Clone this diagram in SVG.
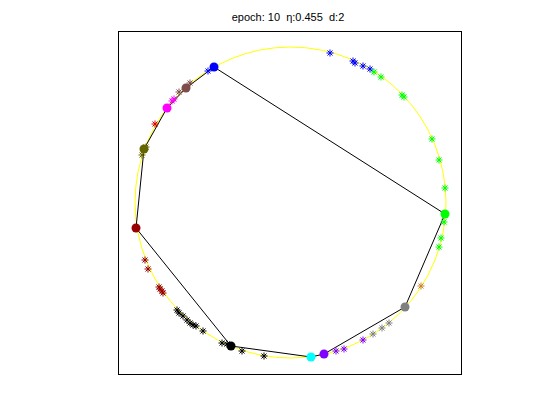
<svg xmlns="http://www.w3.org/2000/svg" xmlns:xlink="http://www.w3.org/1999/xlink" width="560" height="420" viewBox="0 0 560 420">
<style>
.title{font-family:"Liberation Sans",Arial,sans-serif;font-size:11px;fill:#000;white-space:pre}
.st{fill:none;stroke-width:1}
.edge{fill:none;stroke:#000;stroke-width:1}
</style>
<defs>
<path id="s" d="M-3.5,0H3.5M0,-3.5V3.5M-2.5,-2.5L2.5,2.5M-2.5,2.5L2.5,-2.5" fill="none"/>
</defs>
<rect width="560" height="420" fill="#fff"/>
<rect x="118.5" y="31.5" width="343" height="343" fill="#fff" stroke="#000" stroke-width="1"/>
<text class="title" x="288" y="21" text-anchor="middle" xml:space="preserve">epoch: 10  η:0.455  d:2</text>
<circle id="ring" cx="290.5" cy="202.5" r="155.5" fill="none" stroke="#ffff00" stroke-width="1"/>
<g id="connectors">
<polyline class="edge" points="214,67 445,214 405,307 324,354 311,357 231,346 136,228 144,149 167,108 186,88 214,67"/>
</g>
<g id="samples" class="st">
<g stroke="#0000ff">
<use xlink:href="#s" x="208" y="71"/><use xlink:href="#s" x="330" y="53"/><use xlink:href="#s" x="353" y="61"/><use xlink:href="#s" x="355" y="63"/><use xlink:href="#s" x="363" y="66"/><use xlink:href="#s" x="370" y="69"/>
</g>
<g stroke="#00ff00">
<use xlink:href="#s" x="374" y="72"/><use xlink:href="#s" x="381" y="77"/><use xlink:href="#s" x="402" y="95"/><use xlink:href="#s" x="404" y="97"/><use xlink:href="#s" x="432" y="139"/><use xlink:href="#s" x="439" y="160"/><use xlink:href="#s" x="445" y="188"/><use xlink:href="#s" x="444" y="222"/><use xlink:href="#s" x="441" y="238"/><use xlink:href="#s" x="439" y="247"/>
</g>
<g stroke="#cc8033"><use xlink:href="#s" x="421" y="286"/></g>
<g stroke="#808080">
<use xlink:href="#s" x="389" y="323"/><use xlink:href="#s" x="382" y="328"/><use xlink:href="#s" x="373" y="334"/>
</g>
<g stroke="#8000ff">
<use xlink:href="#s" x="363" y="340"/><use xlink:href="#s" x="344" y="349"/><use xlink:href="#s" x="336" y="351"/>
</g>
<g stroke="#000000">
<use xlink:href="#s" x="264" y="356"/><use xlink:href="#s" x="242" y="351"/><use xlink:href="#s" x="227" y="344"/><use xlink:href="#s" x="222" y="343"/><use xlink:href="#s" x="203" y="331"/><use xlink:href="#s" x="196" y="326"/><use xlink:href="#s" x="193" y="325"/><use xlink:href="#s" x="190" y="323"/><use xlink:href="#s" x="187" y="320"/><use xlink:href="#s" x="183" y="316"/><use xlink:href="#s" x="179" y="313"/><use xlink:href="#s" x="177" y="310"/>
</g>
<g stroke="#990000">
<use xlink:href="#s" x="145" y="260"/><use xlink:href="#s" x="148" y="269"/><use xlink:href="#s" x="159" y="287"/><use xlink:href="#s" x="160" y="289"/><use xlink:href="#s" x="162" y="291"/><use xlink:href="#s" x="163" y="293"/>
</g>
<g stroke="#666600">
<use xlink:href="#s" x="146" y="147"/><use xlink:href="#s" x="142" y="155"/>
</g>
<g stroke="#dd0000"><use xlink:href="#s" x="155" y="124"/></g>
<g stroke="#ff00ff">
<use xlink:href="#s" x="172" y="101"/><use xlink:href="#s" x="174" y="99"/>
</g>
<g stroke="#804d4d">
<use xlink:href="#s" x="179" y="92"/><use xlink:href="#s" x="190" y="83"/>
</g>
</g>
<g id="n-blue"><circle cx="214" cy="67" r="4.5" fill="#0000ff"/></g>
<g id="n-brown"><circle cx="186" cy="88" r="4.5" fill="#804d4d"/></g>
<g id="n-magenta"><circle cx="167" cy="108" r="4.5" fill="#ff00ff"/></g>
<g id="n-olive"><circle cx="144" cy="149" r="4.5" fill="#666600"/></g>
<g id="n-darkred"><circle cx="136" cy="228" r="4.5" fill="#990000"/></g>
<g id="n-black"><circle cx="231" cy="346" r="4.5" fill="#000000"/></g>
<g id="n-cyan"><circle cx="311" cy="357" r="4.5" fill="#00ffff"/></g>
<g id="n-purple"><circle cx="324" cy="354" r="4.5" fill="#8000ff"/></g>
<g id="n-gray"><circle cx="405" cy="307" r="4.5" fill="#808080"/></g>
<g id="n-green"><circle cx="445" cy="214" r="4.5" fill="#00ff00"/></g>
</svg>
